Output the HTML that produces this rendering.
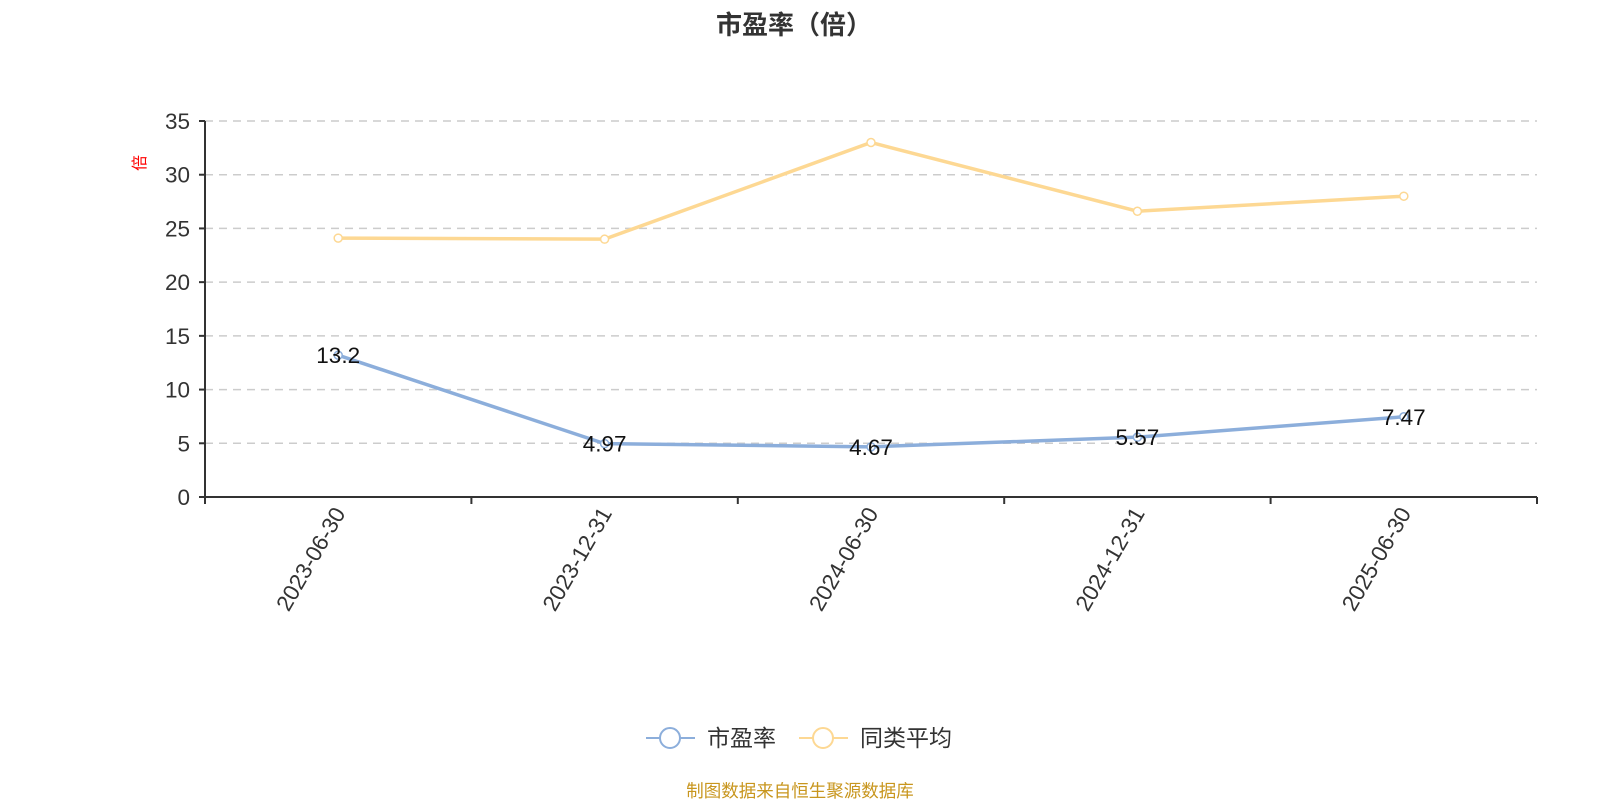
<!DOCTYPE html>
<html><head><meta charset="utf-8"><style>
body{margin:0;background:#fff;}
svg{display:block;font-family:"Liberation Sans","Noto Sans CJK SC",sans-serif;}
</style></head><body>
<svg id="c" width="1600" height="800" viewBox="0 0 1600 800">
<text x="794" y="34" text-anchor="middle" font-size="26" font-weight="bold" fill="#333">市盈率（倍）</text>
<text transform="translate(145,163) rotate(-90)" text-anchor="middle" font-size="16" fill="#f00">倍</text>
<g id="grid"></g><g id="axes"></g><g id="series"></g>
<g>
<g><line x1="646" y1="738" x2="695" y2="738" stroke="#8caedb" stroke-width="2"/><circle cx="670" cy="738" r="10" fill="#fff" stroke="#8caedb" stroke-width="2"/><text x="707" y="746" font-size="23" fill="#333">市盈率</text></g>
<g><line x1="799" y1="738" x2="848" y2="738" stroke="#fdd893" stroke-width="2"/><circle cx="823" cy="738" r="10" fill="#fff" stroke="#fdd893" stroke-width="2"/><text x="860" y="746" font-size="23" fill="#333">同类平均</text></g>
</g>
<text x="800" y="797" text-anchor="middle" font-size="17.5" fill="#c8961e">制图数据来自恒生聚源数据库</text>
</svg>
<script>
const categories=["2023-06-30","2023-12-31","2024-06-30","2024-12-31","2025-06-30"];
const peValues=[13.2,4.97,4.67,5.57,7.47];
const avgValues=[24.1,24.0,33.0,26.6,28.0];
const yTicks=[0,5,10,15,20,25,30,35];
const NS="http://www.w3.org/2000/svg";
const X0=205,X1=1537,Y0=497,Y1=121,YMAX=35;
const band=(X1-X0)/categories.length;
const xs=i=>X0+band*(i+0.5);
const ys=v=>Y0-(v/YMAX)*(Y0-Y1);
function mk(tag,attrs,parent,txt){const e=document.createElementNS(NS,tag);for(const k in attrs)e.setAttribute(k,attrs[k]);if(txt!==undefined)e.textContent=txt;parent.appendChild(e);return e;}
const grid=document.getElementById('grid'),axes=document.getElementById('axes'),ser=document.getElementById('series');
yTicks.forEach(t=>{
  const y=ys(t);
  if(t>0){const g=mk('line',{x1:X0,x2:X1,y1:y,y2:y,stroke:'#ccc','stroke-dasharray':'8,6','stroke-width':1.5},grid);
  
  }
  const tk=mk('line',{x1:X0-6,x2:X0,y1:y,y2:y,stroke:'#333','stroke-width':2},axes);
  
  
  const l=mk('text',{x:X0-15,y:y+8,'text-anchor':'end','font-size':22.5,fill:'#333'},axes,String(t));
  
  
});
const ya=mk('line',{x1:X0,x2:X0,y1:Y1,y2:Y0,stroke:'#333','stroke-width':2},axes);


const xa=mk('line',{x1:X0,x2:X1,y1:Y0,y2:Y0,stroke:'#333','stroke-width':2},axes);


for(let i=0;i<=categories.length;i++){const x=X0+band*i;const t=mk('line',{x1:x,x2:x,y1:Y0,y2:Y0+7,stroke:'#333','stroke-width':2},axes);

}
categories.forEach((c,i)=>{const x=xs(i)+8,y=Y0+16;
const l=mk('text',{x:x,y:y,'text-anchor':'end','font-size':22.5,fill:'#333',transform:`rotate(-60 ${x} ${y})`},axes,c);

});
function drawSeries(vals,color,name,labels){
  const p=mk('polyline',{points:vals.map((v,i)=>xs(i)+','+ys(v)).join(' '),fill:'none',stroke:color,'stroke-width':3.5},ser);
  
  
  vals.forEach((v,i)=>{
    const c=mk('circle',{cx:xs(i),cy:ys(v),r:4,fill:'#fff',stroke:color,'stroke-width':1.5},ser);
    
    
    if(labels){const t=mk('text',{x:xs(i),y:ys(v)+8,'text-anchor':'middle','font-size':22.5,fill:'#111'},ser,String(v));
    
    }
  });
}
drawSeries(avgValues,'#fdd893','avg',false);
drawSeries(peValues,'#8caedb','pe',true);
</script>
</body></html>
